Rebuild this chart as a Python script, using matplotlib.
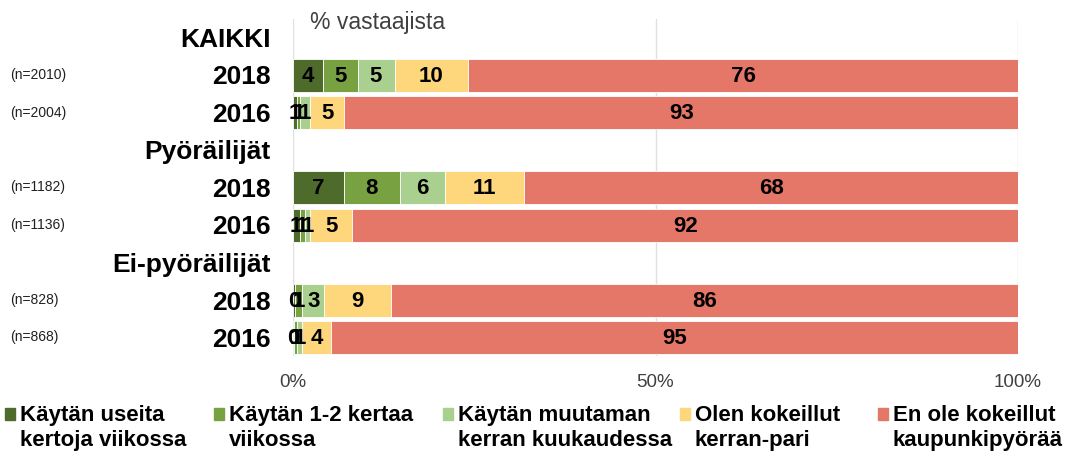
import matplotlib.pyplot as plt
from matplotlib.patches import Rectangle

plt.rcParams['font.family'] = ['Liberation Sans', 'DejaVu Sans']

# rows from top; group headers included
row_labels = ["KAIKKI", "2018", "2016", "Pyöräilijät", "2018", "2016",
              "Ei-pyöräilijät", "2018", "2016"]
n_labels = [None, "(n=2010)", "(n=2004)", None, "(n=1182)", "(n=1136)",
            None, "(n=828)", "(n=868)"]
data_rows = [1, 2, 4, 5, 7, 8]

categories = ["Käytän useita\nkertoja viikossa", "Käytän 1-2 kertaa\nviikossa",
              "Käytän muutaman\nkerran kuukaudessa", "Olen kokeillut\nkerran-pari",
              "En ole kokeillut\nkaupunkipyörää"]
colors = ["#4f6b2b", "#78a142", "#a9d08e", "#fed67b", "#e47768"]

# segment widths (%), per data row
useita = [4.1, 0.5, 7.0, 0.9, 0.3, 0.2]
kerta12 = [4.8, 0.5, 7.7, 0.7, 1.0, 0.3]
muutama = [5.1, 1.3, 6.2, 0.8, 3.0, 0.8]
kokeillut = [10.2, 4.8, 11.0, 5.8, 9.2, 4.0]
ei_kokeillut = [75.8, 92.9, 68.1, 91.8, 86.5, 94.7]
values = [useita, kerta12, muutama, kokeillut, ei_kokeillut]

# labels shown on the bars
lab_useita = ["4", "1", "7", "1", "0", "0"]
lab_kerta12 = ["5", "1", "8", "1", "1", "1"]
lab_muutama = ["5", "1", "6", "1", "3", "1"]
lab_kokeillut = ["10", "5", "11", "5", "9", "4"]
lab_ei = ["76", "93", "68", "92", "86", "95"]
labels = [lab_useita, lab_kerta12, lab_muutama, lab_kokeillut, lab_ei]

fig = plt.figure(figsize=(10.71, 4.51), dpi=100)
ax = fig.add_axes([293 / 1071, 1 - 356.25 / 451, 725 / 1071, 337.5 / 451])

left = [0.0] * len(data_rows)
for vals, labs, col in zip(values, labels, colors):
    ax.barh(data_rows, vals, left=left, height=0.88, color=col,
            edgecolor="white", linewidth=0.6, zorder=2)
    for y, v, l, lb in zip(data_rows, vals, left, labs):
        ax.text(l + v / 2, y + 0.03, lb, ha="center", va="center",
                fontsize=16, fontweight="bold", color="black", zorder=3)
    left = [a + b for a, b in zip(left, vals)]

ax.set_xlim(0, 100)
ax.set_ylim(8.5, -0.5)
ax.set_xticks([0, 50, 100])
ax.set_xticklabels(["0%", "50%", "100%"], fontsize=13.5, color="#404040")
ax.set_yticks(range(len(row_labels)))
ax.set_yticklabels(row_labels, fontsize=19, fontweight="bold")
ax.tick_params(axis="both", length=0)
ax.tick_params(axis="y", pad=16)
ax.tick_params(axis="x", pad=13)
ax.grid(axis="x", color="#e0e0e0", linewidth=1, zorder=0)
for s in ax.spines.values():
    s.set_visible(False)

ax.text(2.3, -0.4, "% vastaajista", fontsize=16.5, color="#404040",
        ha="left", va="center")

for i, nl in enumerate(n_labels):
    if nl:
        fig.text(10 / 1071, 1 - (18.75 + 37.5 * (i + 0.5)) / 451, nl,
                 fontsize=10, color="#202020", ha="left", va="center")

# legend
leg_x = [5, 214, 443, 680, 878]
for x, col, cat in zip(leg_x, colors, categories):
    fig.patches.append(Rectangle((x / 1071, 1 - 420 / 451), 10 / 1071, 12 / 451,
                                 transform=fig.transFigure, color=col))
    fig.text((x + 15) / 1071, 1 - 428 / 451, cat, fontsize=16,
             fontweight="bold", ha="left", va="center", linespacing=1.2)

fig.savefig("out.png", dpi=100)
